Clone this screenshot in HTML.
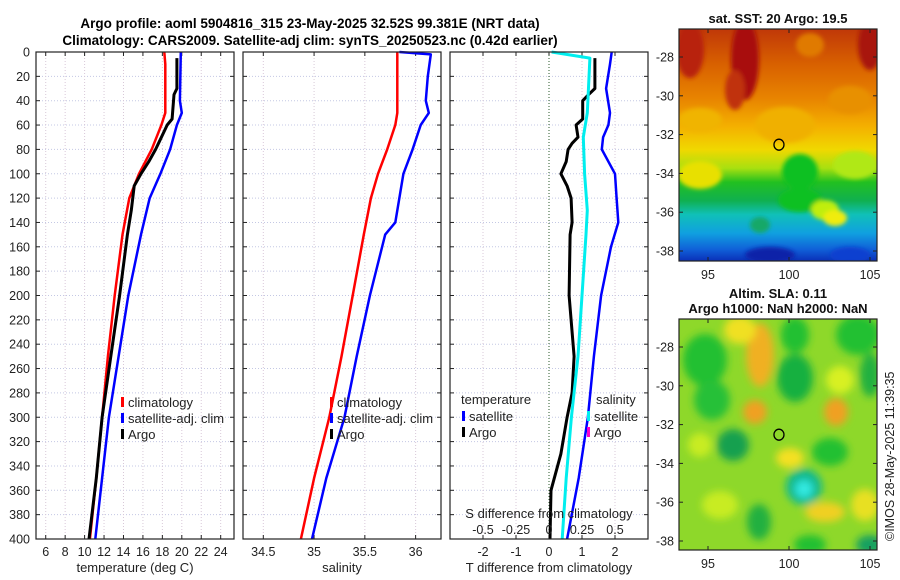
<!DOCTYPE html>
<html><head><meta charset="utf-8">
<style>
html,body{margin:0;padding:0;background:#fff;}
svg{display:block;font-family:"Liberation Sans","DejaVu Sans",sans-serif;}
</style></head>
<body>
<svg id="fig" width="900" height="580" viewBox="0 0 900 580" xmlns="http://www.w3.org/2000/svg">
<defs>
<filter id="blur6" x="-30%" y="-30%" width="160%" height="160%"><feGaussianBlur stdDeviation="4"/></filter>
<filter id="blur3"><feGaussianBlur stdDeviation="2"/></filter>
<clipPath id="clipSst"><rect x="679" y="29" width="198" height="232"/></clipPath>
<clipPath id="clipSla"><rect x="679" y="319" width="198" height="231"/></clipPath>
<linearGradient id="sstGrad" x1="0" y1="0" x2="0" y2="1">
<stop offset="0" stop-color="#c03808"/><stop offset="0.15" stop-color="#d86000"/>
<stop offset="0.3" stop-color="#e88400"/><stop offset="0.42" stop-color="#f4b000"/>
<stop offset="0.52" stop-color="#f0d800"/><stop offset="0.6" stop-color="#a8e010"/>
<stop offset="0.66" stop-color="#22c020"/><stop offset="0.74" stop-color="#10b050"/>
<stop offset="0.8" stop-color="#10c0b8"/><stop offset="0.88" stop-color="#10a0e0"/>
<stop offset="0.95" stop-color="#1060d8"/><stop offset="1" stop-color="#0a30b8"/>
</linearGradient>
</defs>
<text x="310" y="28" font-size="13.5" font-weight="bold" text-anchor="middle">Argo profile: aoml 5904816_315 23-May-2025 32.52S 99.381E (NRT data)</text>
<text x="310" y="45" font-size="13.5" font-weight="bold" text-anchor="middle">Climatology: CARS2009. Satellite-adj clim: synTS_20250523.nc (0.42d earlier)</text>
<g id="panels"></g>
<g id="maps"></g>
</svg>
<script>
// ---- data (depth in m) ----
const tClimDepth = [0,10,50,60,80,100,120,150,200,250,300,350,400];
const tClimVal   = [18.2,18.3,18.3,17.9,16.9,15.6,14.6,13.9,13.1,12.4,11.8,11.2,10.55];
const tSatDepth  = [0,40,50,60,80,100,120,150,200,250,300,350,400];
const tSatVal    = [19.9,19.8,20.0,19.5,18.8,17.8,16.7,15.8,14.5,13.5,12.5,11.8,11.1];
const tArgoDepth = [5,30,35,55,60,75,80,90,100,110,130,150,200,250,300,350,400];
const tArgoVal   = [19.5,19.5,19.2,19.0,18.5,17.6,17.3,16.6,15.8,15.1,14.8,14.4,13.6,12.7,11.8,11.2,10.45];
const sClimDepth = [0,50,60,80,100,120,150,200,250,300,350,400];
const sClimVal   = [35.82,35.82,35.8,35.72,35.63,35.56,35.49,35.38,35.27,35.15,35.0,34.87];
const sSatDepth  = [0,2,20,40,50,60,80,100,140,150,200,250,300,350,400];
const sSatVal    = [35.84,36.15,36.12,36.1,36.13,36.05,35.97,35.88,35.8,35.7,35.55,35.42,35.3,35.12,34.98];
const dSDepth    = [0,5,50,70,100,130,150,200,250,300,350,400];
const dSSatVal   = [0.02,0.31,0.29,0.26,0.27,0.29,0.28,0.25,0.22,0.17,0.13,0.1];
const dTDepth    = [0,10,30,50,60,70,80,100,120,140,160,200,250,300,350,400];
const dTSatVal   = [1.9,1.85,1.73,1.85,1.8,1.64,1.6,2.0,2.05,2.1,1.88,1.58,1.36,1.18,0.9,0.55];
const dTArgoDepth= [5,30,35,40,55,60,70,75,80,90,100,110,120,140,150,200,250,280,300,330,360,400];
const dTArgoVal  = [1.39,1.39,1.2,1.02,1.02,0.82,0.88,0.7,0.58,0.52,0.36,0.55,0.67,0.7,0.64,0.61,0.76,0.7,0.55,0.36,0.06,0.03];
const depthTicks = [0,20,40,60,80,100,120,140,160,180,200,220,240,260,280,300,320,340,360,380,400];
const tTicks = [6,8,10,12,14,16,18,20,22,24];
const sTicks = [34.5,35,35.5,36];
const dTTicks = [-2,-1,0,1,2];
const dSTicks = [-0.5,-0.25,0,0.25,0.5];
const dSTickLabels = ["-0.5","-0.25","0","0.25","0.5"];
const latTicks = [-28,-30,-32,-34,-36,-38];
const lonTicks = [95,100,105];
const argoLon = 99.381, argoLat = -32.52;

const NS="http://www.w3.org/2000/svg";
const P=document.getElementById('panels');
function mk(tag,attrs,parent,txt){const e=document.createElementNS(NS,tag);for(const k in attrs)e.setAttribute(k,attrs[k]);if(txt!==undefined)e.textContent=txt;(parent||P).appendChild(e);return e;}
const Y0=52,Y1=539;
const yDepth=d=>Y0+(d/400)*(Y1-Y0);
function xs(x0,x1,v0,v1){return v=>x0+(v-v0)/(v1-v0)*(x1-x0);}
const xT=xs(36,234,5,25.37), xS=xs(243,441,34.30,36.25), xD=xs(450,648,-3,3), xDS=xs(450,648,-0.75,0.75);

function panel(name,x0,x1,ticks,xf,labels,xlabel){
  const g=mk('g',{});  
  for(const d of depthTicks){mk('line',{x1:x0,x2:x1,y1:yDepth(d),y2:yDepth(d),stroke:'#c4c8e4','stroke-width':1,'stroke-dasharray':'1,2'},g);}
  ticks.forEach((t,i)=>{const x=xf(t);
    mk('line',{x1:x,x2:x,y1:Y0,y2:Y1,stroke:'#d8c8d8','stroke-width':1,'stroke-dasharray':'1,2'},g);
    mk('line',{x1:x,x2:x,y1:Y1,y2:Y1-4,stroke:'#222'},g);mk('line',{x1:x,x2:x,y1:Y0,y2:Y0+4,stroke:'#222'},g);
    const lab=mk('text',{x:x,y:556,'font-size':12.5,'text-anchor':'middle',fill:'#222'},g,labels[i]);
    
  });
  for(const d of depthTicks){const y=yDepth(d);mk('line',{x1:x0,x2:x0+4,y1:y,y2:y,stroke:'#222'},g);mk('line',{x1:x1,x2:x1-4,y1:y,y2:y,stroke:'#222'},g);}
  const xl=mk('text',{x:(x0+x1)/2,y:572,'font-size':13,'text-anchor':'middle',fill:'#222'},g,xlabel);
  
  return g;
}
function line(g,depths,vals,xf,color,w,name){
  const pts=depths.map((d,i)=>xf(vals[i]).toFixed(1)+','+yDepth(d).toFixed(1)).join(' ');
  const l=mk('polyline',{points:pts,fill:'none',stroke:color,'stroke-width':w,'stroke-linejoin':'round'},g);
  
}
function box(g,x0,x1){mk('rect',{x:x0,y:Y0,width:x1-x0,height:Y1-Y0,fill:'none',stroke:'#222','stroke-width':1.2},g);}
function legend(g,x,y,items){items.forEach((it,i)=>{const yy=y+i*16;
  mk('rect',{x:x,y:yy-9,width:3,height:10,fill:it[1]},g);
  const t=mk('text',{x:x+7,y:yy+1,'font-size':13,fill:'#222'},g,it[0]);
  });}

// panel 1
const g1=panel('temperature-panel',36,234,tTicks,xT,tTicks.map(String),'temperature (deg C)');
depthTicks.forEach(d=>{const t=mk('text',{x:30,y:yDepth(d)+4.5,'font-size':12.5,'text-anchor':'end',fill:'#222'},g1,String(d));});
line(g1,tClimDepth,tClimVal,xT,'#ff0000',2.5,'temp-climatology-line');
line(g1,tSatDepth,tSatVal,xT,'#0000ff',2.5,'temp-satellite-line');
line(g1,tArgoDepth,tArgoVal,xT,'#000',3,'temp-argo-line');
box(g1,36,234);
legend(g1,121,406,[['climatology','#ff0000'],['satellite-adj. clim','#0000ff'],['Argo','#000']]);
// panel 2
const g2=panel('salinity-panel',243,441,sTicks,xS,sTicks.map(String),'salinity');
line(g2,sClimDepth,sClimVal,xS,'#ff0000',2.5,'sal-climatology-line');
line(g2,sSatDepth,sSatVal,xS,'#0000ff',2.5,'sal-satellite-line');
box(g2,243,441);
legend(g2,330,406,[['climatology','#ff0000'],['satellite-adj. clim','#0000ff'],['Argo','#000']]);
// panel 3
const g3=panel('difference-panel',450,648,dTTicks,xD,dTTicks.map(String),'T difference from climatology');
mk('line',{x1:xD(0),x2:xD(0),y1:Y0,y2:Y1,stroke:'#2a5a2a','stroke-width':1,'stroke-dasharray':'1,2'},g3);
line(g3,dTArgoDepth,dTArgoVal,xD,'#000',3,'tdiff-argo-line');
line(g3,dSDepth,dSSatVal,xDS,'#00eeee',3,'sdiff-satellite-line');
line(g3,dTDepth,dTSatVal,xD,'#0000ff',2.5,'tdiff-satellite-line');
box(g3,450,648);
{const t=mk('text',{x:461,y:404,'font-size':13,fill:'#222'},g3,'temperature');}
legend(g3,462,420,[['satellite','#0000ff'],['Argo','#000']]);
{const t=mk('text',{x:596,y:404,'font-size':13,fill:'#222'},g3,'salinity');}
legend(g3,587,420,[['satellite','#00eeee'],['Argo','#ff00cc']]);
{const t=mk('text',{x:549,y:518,'font-size':13,'text-anchor':'middle',fill:'#222'},g3,'S difference from climatology');}
dSTicks.forEach((v,i)=>{const t=mk('text',{x:xDS(v),y:534,'font-size':12.5,'text-anchor':'middle',fill:'#222'},g3,dSTickLabels[i]);});

// ---- maps ----
const M=document.getElementById('maps');
const lonX=v=>708+(v-95)*16.2;
function mapAxes(g,top,bot,lat28y){
  latTicks.forEach(l=>{const y=lat28y+(-28-l)*19.4;
    mk('line',{x1:679,x2:683,y1:y,y2:y,stroke:'#222'},g);mk('line',{x1:877,x2:873,y1:y,y2:y,stroke:'#222'},g);
    const t=mk('text',{x:674,y:y+4.5,'font-size':12.5,'text-anchor':'end',fill:'#222'},g,String(l));});
  lonTicks.forEach(l=>{const x=lonX(l);
    mk('line',{x1:x,x2:x,y1:bot,y2:bot-4,stroke:'#222'},g);mk('line',{x1:x,x2:x,y1:top,y2:top+4,stroke:'#222'},g);
    const t=mk('text',{x:x,y:bot+18,'font-size':12.5,'text-anchor':'middle',fill:'#222'},g,String(l));});
  mk('rect',{x:679,y:top,width:198,height:bot-top,fill:'none',stroke:'#222','stroke-width':1.2},g);
  const cy=lat28y+(-28-argoLat)*19.4;
  const c=mk('ellipse',{cx:lonX(argoLon),cy:cy,rx:5,ry:5.5,fill:'none',stroke:'#000','stroke-width':1.3},g);
  
}
// SST map
const gs=mk('g',{},M);
const gsc=mk('g',{'clip-path':'url(#clipSst)'},gs);
mk('rect',{x:679,y:29,width:198,height:232,fill:'url(#sstGrad)'},gsc);
const gsb=mk('g',{filter:'url(#blur3)'},gsc);
[[690,50,14,28,'#b82010'],[745,60,14,40,'#a81008'],[735,90,10,20,'#c03008'],[870,45,12,25,'#a81808'],[810,45,14,12,'#e07a00'],
 [850,100,22,14,'#e89000'],[700,120,22,12,'#f0b400'],[785,125,30,18,'#f0b000'],
 [700,175,22,14,'#e8e000'],[855,165,22,14,'#b0e818'],[800,172,18,18,'#10c020'],[800,200,22,12,'#10c020'],[825,210,14,10,'#c0ee10'],
 [835,218,12,8,'#f0ec10'],[760,225,10,8,'#18a868'],[770,255,25,8,'#0a20a8'],[850,255,20,8,'#1040d0']].forEach(b=>mk('ellipse',{cx:b[0],cy:b[1],rx:b[2],ry:b[3],fill:b[4]},gsb));
mapAxes(gs,29,261,57);
{const t=mk('text',{x:778,y:23,'font-size':13,'font-weight':'bold','text-anchor':'middle',fill:'#111'},gs,'sat. SST: 20 Argo: 19.5');}
// SLA map
const ga=mk('g',{},M);
const gac=mk('g',{'clip-path':'url(#clipSla)'},ga);
mk('rect',{x:679,y:319,width:198,height:231,fill:'#8ed82a'},gac);
const gab=mk('g',{filter:'url(#blur6)'},gac);
[[705,360,22,26,'#20c030'],[712,400,18,20,'#28c038'],[760,355,14,32,'#f0b020'],[740,330,16,14,'#f0e020'],[795,335,14,18,'#20c030'],
 [795,378,18,24,'#18b040'],[858,335,22,20,'#20c030'],[870,375,10,22,'#20b040'],[755,412,12,12,'#f0a020'],[836,412,12,14,'#f0a020'],
 [733,445,16,16,'#18a050'],[790,458,14,10,'#f4e020'],[830,452,18,14,'#20c030'],[804,487,18,18,'#10b890'],[804,489,9,9,'#30e8e0'],
 [825,512,20,10,'#f0d020'],[865,505,14,16,'#e8e020'],[759,522,12,18,'#20b040'],[810,545,16,10,'#20c030'],[870,545,14,10,'#18a060'],
 [720,505,18,14,'#c8ec20'],[840,380,14,14,'#d8f020'],[700,445,12,12,'#c8ec20']].forEach(b=>mk('ellipse',{cx:b[0],cy:b[1],rx:b[2],ry:b[3],fill:b[4]},gab));
mapAxes(ga,319,550,347);
{const t=mk('text',{x:778,y:298,'font-size':13,'font-weight':'bold','text-anchor':'middle',fill:'#111'},ga,'Altim. SLA: 0.11');}
{const t=mk('text',{x:778,y:313,'font-size':13,'font-weight':'bold','text-anchor':'middle',fill:'#111'},ga,'Argo h1000: NaN h2000: NaN');}
{const t=mk('text',{x:0,y:0,'font-size':12.5,fill:'#222',transform:'translate(894,541) rotate(-90)'},ga,'©IMOS 28-May-2025 11:39:35');}
</script>
</body></html>
